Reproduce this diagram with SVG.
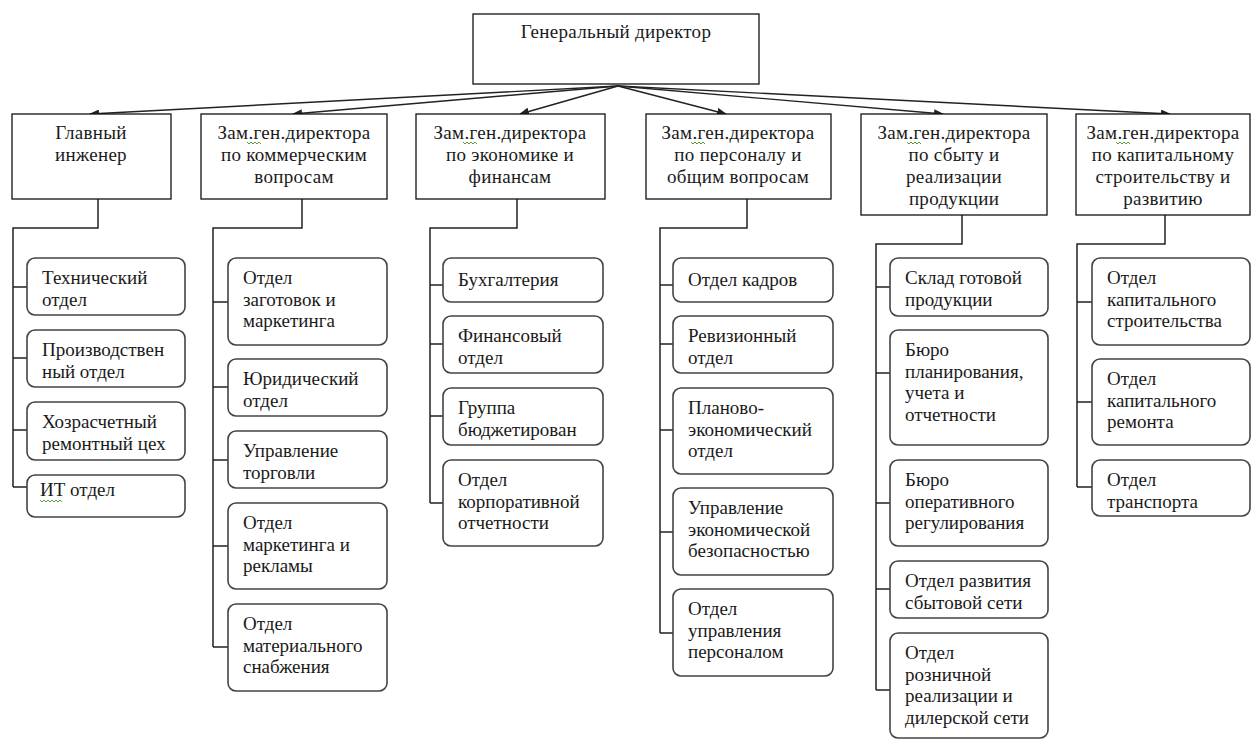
<svg xmlns="http://www.w3.org/2000/svg" width="1252" height="742" viewBox="0 0 1252 742" font-family="'Liberation Serif', 'DejaVu Serif', 'Times New Roman', serif">
<style>
text{font-family:'Liberation Serif','DejaVu Serif','Times New Roman',serif;font-size:19px;fill:#1a1a1a}
.c{text-anchor:middle;letter-spacing:0.3px}
.box{fill:#fff;stroke:#111;stroke-width:1.3}
.rb{fill:#fff;stroke:#444;stroke-width:1.6}
.ln{fill:none;stroke:#222;stroke-width:1.5}
.ar{fill:none;stroke:#222;stroke-width:1.4}
.sq{fill:none;stroke:#5a9a3a;stroke-width:1}
</style>
<defs>
<marker id="ah" markerUnits="userSpaceOnUse" markerWidth="10" markerHeight="8" refX="9" refY="4" orient="auto">
<path d="M0,0 L10,4 L0,8 z" fill="#222"/>
</marker>
</defs>
<rect width="1252" height="742" fill="#fff"/>

<g id="connectors">
<line class="ar" x1="618" y1="86" x2="90" y2="114" marker-end="url(#ah)"/>
<line class="ar" x1="618" y1="86" x2="293" y2="114" marker-end="url(#ah)"/>
<line class="ar" x1="618" y1="86" x2="520" y2="114" marker-end="url(#ah)"/>
<line class="ar" x1="618" y1="86" x2="726" y2="114" marker-end="url(#ah)"/>
<line class="ar" x1="618" y1="86" x2="943" y2="114" marker-end="url(#ah)"/>
<line class="ar" x1="618" y1="86" x2="1170" y2="114" marker-end="url(#ah)"/>
<path class="ln" d="M98,199 V228 H13 V487 M13,287 H27 M13,358 H27 M13,430 H27 M13,487 H27"/>
<path class="ln" d="M302,199 V228 H213 V647 M213,302 H228 M213,387 H228 M213,460 H228 M213,546 H228 M213,647 H228"/>
<path class="ln" d="M517,199 V228 H430 V503 M430,285 H443 M430,344 H443 M430,416 H443 M430,503 H443"/>
<path class="ln" d="M747,199 V228 H660 V633 M660,285 H673 M660,344 H673 M660,430 H673 M660,532 H673 M660,633 H673"/>
<path class="ln" d="M962,215 V244 H876 V690 M876,287 H890 M876,373 H890 M876,503 H890 M876,589 H890 M876,690 H890"/>
<path class="ln" d="M1165,215 V244 H1077 V487 M1077,302 H1092 M1077,402 H1092 M1077,487 H1092"/>
</g>

<g id="gd"><rect class="box" x="473" y="14" width="286" height="70"/><text class="c" x="616" y="38">Генеральный директор</text></g>

<g id="l2-1"><rect class="box" x="12" y="114" width="159" height="85"/><text class="c" x="91" y="139">Главный</text><text class="c" x="91" y="161">инженер</text></g>
<g id="l2-2"><rect class="box" x="201" y="114" width="186" height="85"/><text class="c" x="294" y="139">Зам.ген.директора</text><text class="c" x="294" y="161">по коммерческим</text><text class="c" x="294" y="183">вопросам</text><path class="sq" d="M247,142 l2,2 l2,-2 l2,2 l2,-2 l2,2 l2,-2 l2,2"/></g>
<g id="l2-3"><rect class="box" x="416" y="114" width="189" height="85"/><text class="c" x="510" y="139">Зам.ген.директора</text><text class="c" x="510" y="161">по экономике и</text><text class="c" x="510" y="183">финансам</text><path class="sq" d="M463,142 l2,2 l2,-2 l2,2 l2,-2 l2,2 l2,-2 l2,2"/></g>
<g id="l2-4"><rect class="box" x="646" y="114" width="185" height="85"/><text class="c" x="738" y="139">Зам.ген.директора</text><text class="c" x="738" y="161">по персоналу и</text><text class="c" x="738" y="183">общим вопросам</text><path class="sq" d="M691,142 l2,2 l2,-2 l2,2 l2,-2 l2,2 l2,-2 l2,2"/></g>
<g id="l2-5"><rect class="box" x="861" y="114" width="186" height="101"/><text class="c" x="954" y="139">Зам.ген.директора</text><text class="c" x="954" y="161">по сбыту и</text><text class="c" x="954" y="183">реализации</text><text class="c" x="954" y="205">продукции</text><path class="sq" d="M907,142 l2,2 l2,-2 l2,2 l2,-2 l2,2 l2,-2 l2,2"/></g>
<g id="l2-6"><rect class="box" x="1076" y="114" width="174" height="101"/><text class="c" x="1163" y="139">Зам.ген.директора</text><text class="c" x="1163" y="161">по капитальному</text><text class="c" x="1163" y="183">строительству и</text><text class="c" x="1163" y="205">развитию</text><path class="sq" d="M1116,142 l2,2 l2,-2 l2,2 l2,-2 l2,2 l2,-2 l2,2"/></g>

<g id="c1-1"><rect class="rb" x="27" y="258" width="158" height="57" rx="8"/><text x="42" y="284">Технический</text><text x="42" y="305.5">отдел</text></g>
<g id="c1-2"><rect class="rb" x="27" y="330" width="158" height="57" rx="8"/><text x="42" y="356">Производствен</text><text x="42" y="377.5">ный отдел</text></g>
<g id="c1-3"><rect class="rb" x="27" y="402" width="158" height="58" rx="8"/><text x="42" y="428">Хозрасчетный</text><text x="42" y="449.5">ремонтный цех</text></g>
<g id="c1-4"><rect class="rb" x="27" y="475" width="158" height="42" rx="8"/><text x="40" y="496">ИТ отдел</text><path class="sq" d="M40,500 l2,2 l2,-2 l2,2 l2,-2 l2,2 l2,-2 l2,2 l2,-2 l2,2 l2,-2 l2,2"/></g>

<g id="c2-1"><rect class="rb" x="228" y="258" width="159" height="87" rx="8"/><text x="243" y="284">Отдел</text><text x="243" y="305.5">заготовок и</text><text x="243" y="327">маркетинга</text></g>
<g id="c2-2"><rect class="rb" x="228" y="359" width="159" height="57" rx="8"/><text x="243" y="385">Юридический</text><text x="243" y="406.5">отдел</text></g>
<g id="c2-3"><rect class="rb" x="228" y="431" width="159" height="57" rx="8"/><text x="243" y="457">Управление</text><text x="243" y="478.5">торговли</text></g>
<g id="c2-4"><rect class="rb" x="228" y="503" width="159" height="86" rx="8"/><text x="243" y="529">Отдел</text><text x="243" y="550.5">маркетинга и</text><text x="243" y="572">рекламы</text></g>
<g id="c2-5"><rect class="rb" x="228" y="604" width="159" height="87" rx="8"/><text x="243" y="630">Отдел</text><text x="243" y="651.5">материального</text><text x="243" y="673">снабжения</text></g>

<g id="c3-1"><rect class="rb" x="443" y="258" width="160" height="44" rx="8"/><text x="458" y="286">Бухгалтерия</text></g>
<g id="c3-2"><rect class="rb" x="443" y="316" width="160" height="57" rx="8"/><text x="458" y="342">Финансовый</text><text x="458" y="363.5">отдел</text></g>
<g id="c3-3"><rect class="rb" x="443" y="388" width="160" height="57" rx="8"/><text x="458" y="414">Группа</text><text x="458" y="435.5">бюджетирован</text></g>
<g id="c3-4"><rect class="rb" x="443" y="460" width="160" height="86" rx="8"/><text x="458" y="486">Отдел</text><text x="458" y="507.5">корпоративной</text><text x="458" y="529">отчетности</text></g>

<g id="c4-1"><rect class="rb" x="673" y="258" width="160" height="44" rx="8"/><text x="688" y="286">Отдел кадров</text></g>
<g id="c4-2"><rect class="rb" x="673" y="316" width="160" height="57" rx="8"/><text x="688" y="342">Ревизионный</text><text x="688" y="363.5">отдел</text></g>
<g id="c4-3"><rect class="rb" x="673" y="388" width="160" height="86" rx="8"/><text x="688" y="414">Планово-</text><text x="688" y="435.5">экономический</text><text x="688" y="457">отдел</text></g>
<g id="c4-4"><rect class="rb" x="673" y="488" width="160" height="87" rx="8"/><text x="688" y="514">Управление</text><text x="688" y="535.5">экономической</text><text x="688" y="557">безопасностью</text></g>
<g id="c4-5"><rect class="rb" x="673" y="589" width="160" height="87" rx="8"/><text x="688" y="615">Отдел</text><text x="688" y="636.5">управления</text><text x="688" y="658">персоналом</text></g>

<g id="c5-1"><rect class="rb" x="890" y="258" width="158" height="58" rx="8"/><text x="905" y="284">Склад готовой</text><text x="905" y="305.5">продукции</text></g>
<g id="c5-2"><rect class="rb" x="890" y="330" width="158" height="115" rx="8"/><text x="905" y="356">Бюро</text><text x="905" y="377.5">планирования,</text><text x="905" y="399">учета и</text><text x="905" y="420.5">отчетности</text></g>
<g id="c5-3"><rect class="rb" x="890" y="460" width="158" height="86" rx="8"/><text x="905" y="486">Бюро</text><text x="905" y="507.5">оперативного</text><text x="905" y="529">регулирования</text></g>
<g id="c5-4"><rect class="rb" x="890" y="561" width="158" height="57" rx="8"/><text x="905" y="587">Отдел развития</text><text x="905" y="608.5">сбытовой сети</text></g>
<g id="c5-5"><rect class="rb" x="890" y="633" width="158" height="105" rx="8"/><text x="905" y="659">Отдел</text><text x="905" y="680.5">розничной</text><text x="905" y="702">реализации и</text><text x="905" y="723.5">дилерской сети</text></g>

<g id="c6-1"><rect class="rb" x="1092" y="258" width="158" height="87" rx="8"/><text x="1107" y="284">Отдел</text><text x="1107" y="305.5">капитального</text><text x="1107" y="327">строительства</text></g>
<g id="c6-2"><rect class="rb" x="1092" y="359" width="158" height="86" rx="8"/><text x="1107" y="385">Отдел</text><text x="1107" y="406.5">капитального</text><text x="1107" y="428">ремонта</text></g>
<g id="c6-3"><rect class="rb" x="1092" y="460" width="158" height="56" rx="8"/><text x="1107" y="486">Отдел</text><text x="1107" y="507.5">транспорта</text></g>
</svg>
